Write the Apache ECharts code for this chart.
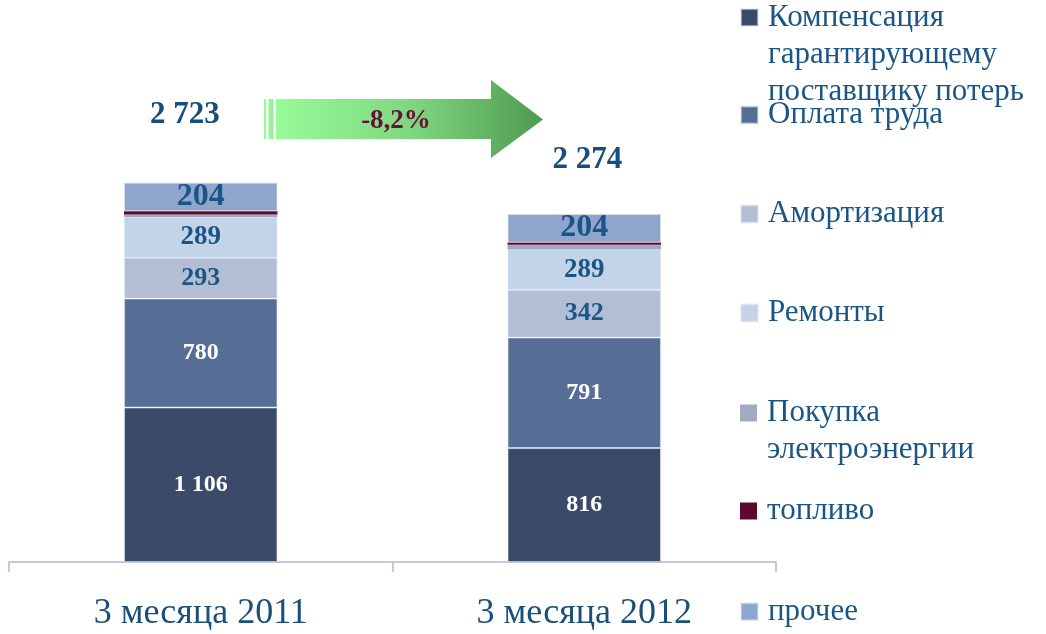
<!DOCTYPE html>
<html>
<head>
<meta charset="utf-8">
<script src="https://cdn.jsdelivr.net/npm/echarts@6/dist/echarts.min.js"></script>
<style>
html,body{margin:0;padding:0;background:#fff;}
#c{width:1046px;height:634px;}
</style>
</head>
<body>
<div id="c"></div>
<script>
const categories = ['3 месяца 2011', '3 месяца 2012'];
const seriesNames = [
  'Компенсация гарантирующему поставщику потерь',
  'Оплата труда',
  'Амортизация',
  'Ремонты',
  'Покупка электроэнергии',
  'топливо',
  'прочее'
];
const legendLines = [
  ['Компенсация', 'гарантирующему', 'поставщику потерь'],
  ['Оплата труда'],
  ['Амортизация'],
  ['Ремонты'],
  ['Покупка', 'электроэнергии'],
  ['топливо'],
  ['прочее']
];
const compensation = [1106, 816];
const labor = [780, 791];
const depreciation = [293, 342];
const repairs = [289, 289];
const power = [20, 33];
const fuel = [24, 17];
const other = [204, 204];
const totals = [2723, 2274];
const changeLabel = '-8,2%';

const values = [compensation, labor, depreciation, repairs, power, fuel, other];
const colors = ['#3a4a68', '#566d96', '#b3bdd3', '#c3d3e8', '#a0aac0', '#5e0a2e', '#8fa5cc'];
const FONT = 'Liberation Serif';
const TXT = '#1a5586';

function fmtNum(v) {
  return String(v).replace(/\B(?=(\d{3})+(?!\d))/g, ' ');
}

const labelStyles = [
  {show: true, color: '#fff', fontSize: 24, fontWeight: 'bold'},
  {show: true, color: '#fff', fontSize: 24, fontWeight: 'bold'},
  {show: true, color: TXT, fontSize: 26, fontWeight: 'bold'},
  {show: true, color: TXT, fontSize: 27, fontWeight: 'bold'},
  {show: false},
  {show: false},
  {show: true, color: TXT, fontSize: 32, fontWeight: 'bold'}
];

const series = values.map((arr, i) => ({
  name: seriesNames[i],
  type: 'bar',
  stack: 'total',
  barWidth: '40%',
  data: arr,
  itemStyle: {
    color: colors[i],
    borderColor: (i === 4 || i === 5) ? colors[i] : 'rgba(220,228,240,0.55)',
    borderWidth: (i === 4 || i === 5) ? 0 : 1
  },
  label: Object.assign({
    position: 'inside',
    fontFamily: FONT,
    formatter: p => fmtNum(p.value)
  }, labelStyles[i]),
  emphasis: {disabled: true}
}));

const totalOffsets = [[-16, -67], [3, -84]];
series.push({
  name: 'totals',
  type: 'scatter',
  symbolSize: 0,
  itemStyle: {opacity: 1},
  data: totals.map((v, i) => ({
    value: [i, v],
    label: {offset: totalOffsets[i]}
  })),
  label: {
    show: true,
    position: 'inside',
    formatter: p => fmtNum(p.value[1]),
    fontFamily: FONT,
    fontSize: 31,
    fontWeight: 'bold',
    color: '#174e7c'
  },
  emphasis: {disabled: true},
  silent: true,
  z: 10
});

const legendIconY = [17.5, 115, 214, 313, 413, 511, 611.7];
const LH = 37;
const legends = seriesNames.map((name, i) => {
  const lines = legendLines[i];
  const n = lines.length;
  const text = '\n'.repeat(n - 1) + lines.map(s => '{t|' + s + '}').join('\n');
  const boxH = (2 * n - 1) * LH;
  return {
    data: [name],
    orient: 'vertical',
    left: 740,
    top: legendIconY[i] - boxH / 2,
    padding: 0,
    icon: 'rect',
    itemWidth: 17,
    itemHeight: 17,
    itemGap: 0,
    selectedMode: false,
    formatter: () => text,
    textStyle: {
      fontFamily: FONT,
      fontSize: 31,
      lineHeight: LH,
      color: TXT,
      rich: {
        t: {
          fontFamily: FONT,
          fontSize: 31,
          lineHeight: LH,
          color: TXT,
          padding: [0, 0, 0, 5]
        }
      }
    }
  };
});

const chart = echarts.init(document.getElementById('c'));
chart.setOption({
  backgroundColor: '#fff',
  animation: false,
  grid: {left: 9, right: 270, top: 143, bottom: 72},
  xAxis: {
    type: 'category',
    data: categories,
    axisLine: {lineStyle: {color: '#c3cad6', width: 2}},
    axisTick: {show: true, length: 10, lineStyle: {color: '#c3cad6', width: 2}},
    axisLabel: {fontFamily: FONT, fontSize: 36, color: '#1a4f7a', margin: 34}
  },
  yAxis: {
    type: 'value',
    min: 0,
    max: 3000,
    show: false,
    splitLine: {show: false}
  },
  legend: legends,
  series: series,
  graphic: [
    {
      type: 'group',
      children: [
        {type: 'rect', shape: {x: 264, y: 99, width: 2, height: 40},
         style: {fill: '#98f898'}},
        {type: 'rect', shape: {x: 268.5, y: 99, width: 5, height: 40},
         style: {fill: '#96f596'}},
        {
          type: 'polygon',
          shape: {points: [[276, 99], [491, 99], [491, 80], [543, 119.5], [491, 158], [491, 139], [276, 139]]},
          style: {
            fill: new echarts.graphic.LinearGradient(0, 0, 1, 0, [
              {offset: 0, color: '#98fa98'},
              {offset: 0.5, color: '#7fd87f'},
              {offset: 1, color: '#4f9a4f'}
            ])
          }
        },
        {
          type: 'text',
          x: 396, y: 121,
          style: {
            text: changeLabel,
            font: 'bold 27px "Liberation Serif"',
            fill: '#6a0f3a',
            align: 'center',
            verticalAlign: 'middle'
          }
        }
      ]
    }
  ]
});
</script>
</body>
</html>
